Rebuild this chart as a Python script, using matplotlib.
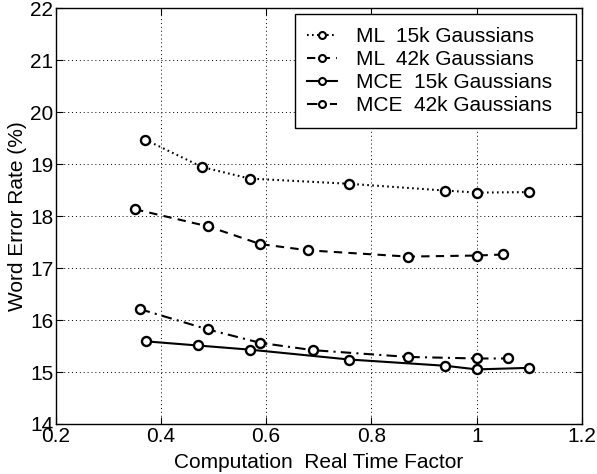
import matplotlib
matplotlib.use("Agg")
import matplotlib.pyplot as plt
import matplotlib.ticker as mticker

# data
ml15_x = [0.37, 0.479, 0.569, 0.758, 0.94, 1.0, 1.1]
ml15_y = [19.47, 18.94, 18.72, 18.62, 18.49, 18.45, 18.46]

ml42_x = [0.351, 0.49, 0.589, 0.68, 0.869, 1.0, 1.05]
ml42_y = [18.13, 17.80, 17.46, 17.34, 17.22, 17.24, 17.26]

mce15_x = [0.371, 0.47, 0.569, 0.758, 0.94, 1.0, 1.1]
mce15_y = [15.59, 15.51, 15.43, 15.24, 15.12, 15.05, 15.08]

mce42_x = [0.36, 0.489, 0.589, 0.689, 0.869, 1.0, 1.06]
mce42_y = [16.21, 15.82, 15.56, 15.42, 15.29, 15.26, 15.26]

labels = ["ML  15k Gaussians", "ML  42k Gaussians",
          "MCE  15k Gaussians", "MCE  42k Gaussians"]

plt.rcParams.update({
    "font.family": ["Liberation Sans", "DejaVu Sans"],
    "font.size": 15,
    "axes.linewidth": 1.0,
    "xtick.direction": "in",
    "ytick.direction": "in",
    "xtick.top": True,
    "ytick.right": True,
})

fig = plt.figure(figsize=(5.97, 4.74), dpi=100)
ax = fig.add_axes([0.093, 0.1055, 0.882, 0.8775])

series = [
    (ml15_x, ml15_y, (0, (0.8, 1.6))),
    (ml42_x, ml42_y, (0, (4, 3))),
    (mce15_x, mce15_y, "-"),
    (mce42_x, mce42_y, (0, (5, 2.5, 1, 2.5))),
]
for (xs, ys, ls), lab in zip(series, labels):
    # trailing spaces leave the extra right margin of the original legend box
    ax.plot(xs, ys, color="black", lw=1.5, ls=ls, marker="o", ms=6.5,
            mfc="white", mec="black", mew=1.7, label=lab + "  ")

ax.set_xlim(0.2, 1.2)
ax.set_ylim(14, 22)
ax.xaxis.set_major_locator(mticker.MultipleLocator(0.2))
ax.yaxis.set_major_locator(mticker.MultipleLocator(1))
ax.xaxis.set_major_formatter(mticker.FuncFormatter(lambda v, p: f"{v:g}"))
ax.grid(True, color="black", ls=(0, (1, 3)), lw=0.7)
ax.tick_params(axis="x", length=5, width=0.8, pad=2)
ax.tick_params(axis="y", length=5, width=0.8, pad=1.5)

ax.set_xlabel("Computation  Real Time Factor", labelpad=5)
ax.set_ylabel("Word Error Rate (%)", labelpad=2)

leg = ax.legend(loc="upper right", bbox_to_anchor=(0.989, 0.985),
                fancybox=False, framealpha=1, edgecolor="black",
                handlelength=1.45, handletextpad=0.9, labelspacing=0.2,
                borderpad=0.6, borderaxespad=0)
leg.get_frame().set_linewidth(1.0)
for h in leg.legend_handles:
    h.set_markersize(5)
    h.set_markeredgewidth(1.5)

fig.savefig("out.png", dpi=100, facecolor="white")
